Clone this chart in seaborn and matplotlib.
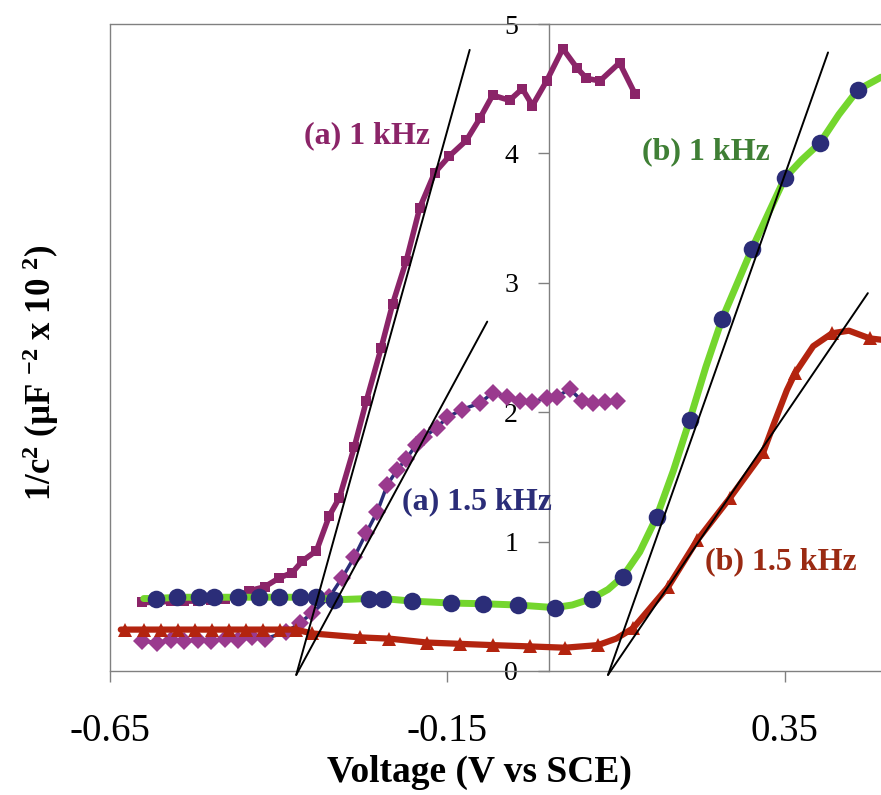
import matplotlib
matplotlib.use("Agg")
import matplotlib.pyplot as plt
import seaborn as sns

# (a) 1 kHz  - squares
a1_v = [-0.602, -0.58, -0.56, -0.54, -0.52, -0.50, -0.48, -0.46, -0.444, -0.421,
        -0.399, -0.380, -0.365, -0.344, -0.325, -0.310, -0.288, -0.270, -0.248, -0.231,
        -0.211, -0.191, -0.169, -0.147, -0.122, -0.102, -0.083, -0.058, -0.039, -0.024,
        -0.003, 0.021, 0.042, 0.056, 0.076, 0.105, 0.128]
a1_c = [0.53, 0.53, 0.54, 0.54, 0.54, 0.55, 0.56, 0.58, 0.62, 0.65,
        0.72, 0.76, 0.85, 0.93, 1.20, 1.34, 1.73, 2.09, 2.50, 2.84,
        3.17, 3.58, 3.85, 3.98, 4.10, 4.27, 4.45, 4.41, 4.50, 4.37,
        4.56, 4.81, 4.66, 4.58, 4.56, 4.70, 4.46]

# (a) 1.5 kHz - diamonds
a15_v = [-0.602, -0.58, -0.56, -0.54, -0.52, -0.50, -0.48, -0.46, -0.44, -0.42,
         -0.389, -0.369, -0.350, -0.325, -0.306, -0.288, -0.270, -0.254, -0.239, -0.225,
         -0.211, -0.196, -0.184, -0.166, -0.150, -0.129, -0.102, -0.083, -0.062, -0.043,
         -0.024, -0.003, 0.013, 0.031, 0.049, 0.065, 0.083, 0.101]
a15_c = [0.23, 0.22, 0.24, 0.23, 0.24, 0.23, 0.25, 0.24, 0.26, 0.25,
         0.30, 0.37, 0.45, 0.57, 0.72, 0.88, 1.07, 1.23, 1.44, 1.55,
         1.64, 1.75, 1.81, 1.88, 1.96, 2.02, 2.07, 2.15, 2.12, 2.09,
         2.08, 2.11, 2.12, 2.18, 2.09, 2.07, 2.08, 2.09]

# (b) 1 kHz - circles on green trace
b1_v = [-0.582, -0.550, -0.518, -0.496, -0.461, -0.429, -0.399, -0.369, -0.344, -0.318,
        -0.266, -0.246, -0.202, -0.144, -0.098, -0.046, 0.009, 0.064, 0.110, 0.160,
        0.209, 0.257, 0.301, 0.350, 0.402, 0.458]
b1_c = [0.56, 0.57, 0.57, 0.57, 0.57, 0.57, 0.57, 0.57, 0.57, 0.55,
        0.56, 0.56, 0.54, 0.525, 0.52, 0.51, 0.49, 0.56, 0.73, 1.19,
        1.94, 2.72, 3.26, 3.81, 4.08, 4.49]
b1_trace_v = [-0.60, -0.582, -0.550, -0.518, -0.496, -0.461, -0.429, -0.399, -0.369,
              -0.344, -0.318, -0.266, -0.246, -0.202, -0.144, -0.098, -0.046, 0.009,
              0.035, 0.064, 0.088, 0.110, 0.135, 0.160, 0.185, 0.209, 0.233, 0.257,
              0.301, 0.350, 0.375, 0.402, 0.430, 0.458, 0.493]
b1_trace_c = [0.56, 0.56, 0.57, 0.57, 0.57, 0.57, 0.57, 0.57, 0.57,
              0.57, 0.55, 0.56, 0.56, 0.54, 0.525, 0.52, 0.51, 0.49,
              0.51, 0.56, 0.63, 0.73, 0.92, 1.19, 1.55, 1.94, 2.35, 2.72,
              3.26, 3.81, 3.95, 4.08, 4.30, 4.49, 4.59]

# (b) 1.5 kHz - triangles
b15_v = [-0.628, -0.599, -0.574, -0.549, -0.524, -0.499, -0.473, -0.448, -0.423, -0.398,
         -0.375, -0.350, -0.280, -0.236, -0.180, -0.132, -0.083, -0.028, 0.024, 0.073,
         0.125, 0.177, 0.220, 0.269, 0.318, 0.365, 0.420, 0.476]
b15_c = [0.32, 0.32, 0.32, 0.32, 0.32, 0.32, 0.32, 0.32, 0.32, 0.32,
         0.32, 0.29, 0.26, 0.25, 0.22, 0.21, 0.20, 0.19, 0.18, 0.20,
         0.33, 0.65, 1.01, 1.34, 1.69, 2.30, 2.61, 2.57]
b15_trace_v = [-0.634, -0.628, -0.599, -0.574, -0.549, -0.524, -0.499, -0.473, -0.448,
               -0.423, -0.398, -0.375, -0.350, -0.280, -0.236, -0.180, -0.132, -0.083,
               -0.028, 0.024, 0.073, 0.100, 0.125, 0.177, 0.220, 0.269, 0.318, 0.333,
               0.353, 0.365, 0.392, 0.420, 0.445, 0.476, 0.493]
b15_trace_c = [0.32, 0.32, 0.32, 0.32, 0.32, 0.32, 0.32, 0.32, 0.32,
               0.32, 0.32, 0.32, 0.29, 0.26, 0.25, 0.22, 0.21, 0.20,
               0.19, 0.18, 0.20, 0.25, 0.33, 0.65, 1.01, 1.34, 1.69, 1.90,
               2.17, 2.30, 2.51, 2.61, 2.63, 2.57, 2.56]

# tangent (Mott-Schottky) lines: start/end points
tangents = {
    "a1": ([-0.374, -0.117], [-0.03, 4.80]),
    "a15": ([-0.374, -0.091], [-0.03, 2.70]),
    "b1": ([0.088, 0.414], [-0.03, 4.78]),
    "b15": ([0.088, 0.473], [-0.03, 2.92]),
}

x_ticks = [-0.65, -0.15, 0.35]
y_ticks = [0, 1, 2, 3, 4, 5]
XMIN, XMAX = -0.65, 0.4925

PURPLE = "#8b2468"
MAGENTA = "#9a3a8e"
NAVY = "#2b2d78"
GREEN = "#74d62e"
DKGREEN = "#3f7f35"
RED = "#b3240f"
DKRED = "#9a2a12"
AXIS = "#808080"

sns.set_theme(style="white")
plt.rcParams["font.family"] = ["Liberation Serif", "DejaVu Serif"]
plt.rcParams["mathtext.fontset"] = "custom"
plt.rcParams["mathtext.rm"] = "Liberation Serif:bold"
plt.rcParams["mathtext.bf"] = "Liberation Serif:bold"
plt.rcParams["mathtext.it"] = "Liberation Serif:bold:italic"

fig = plt.figure(figsize=(8.81, 7.95), dpi=100)
ax = fig.add_axes([110 / 881, 1 - 671 / 795, 1 - 110 / 881, (671 - 24) / 795])

sns.lineplot(x=a1_v, y=a1_c, ax=ax, sort=False, estimator=None, color=PURPLE,
             lw=4, marker="s", markersize=7, markeredgewidth=0, zorder=3)
sns.lineplot(x=a15_v, y=a15_c, ax=ax, sort=False, estimator=None, color=NAVY,
             lw=2.5, marker="D", markersize=9, markerfacecolor=MAGENTA,
             markeredgewidth=0, zorder=3)
sns.lineplot(x=b15_trace_v, y=b15_trace_c, ax=ax, sort=False, estimator=None,
             color=RED, lw=4.5, zorder=4)
sns.lineplot(x=b15_v, y=b15_c, ax=ax, sort=False, estimator=None, color=RED,
             lw=0, marker="^", markersize=10, markeredgewidth=0, zorder=4)
sns.lineplot(x=b1_trace_v, y=b1_trace_c, ax=ax, sort=False, estimator=None,
             color=GREEN, lw=5, zorder=4)
sns.scatterplot(x=b1_v, y=b1_c, ax=ax, color=NAVY, s=160, linewidth=0, zorder=5)

for xs, ys in tangents.values():
    sns.lineplot(x=xs, y=ys, ax=ax, sort=False, estimator=None, color="black",
                 lw=1.4, clip_on=False, zorder=6)

ax.set_xlim(XMIN, XMAX)
ax.set_ylim(0, 5)
ax.set_xticks(x_ticks)
ax.set_xticklabels([f"{t:.2f}" for t in x_ticks])
ax.set_yticks(y_ticks)

ax.spines["left"].set_position(("data", 0))
ax.spines["right"].set_visible(False)
for side in ["left", "top", "bottom"]:
    ax.spines[side].set_color(AXIS)
    ax.spines[side].set_linewidth(1.0)
ax.axvline(XMIN, color=AXIS, lw=1.0, clip_on=False)

ax.tick_params(axis="y", direction="out", length=8, width=1, color=AXIS,
               labelsize=20, pad=14, left=True, labelcolor="black")
ax.tick_params(axis="x", direction="out", length=8, width=1, color=AXIS,
               labelsize=28, pad=22, bottom=True, labelcolor="black")

ax.set_xlabel("Voltage (V vs SCE)", fontsize=27, fontweight="bold", color="black")
ax.xaxis.set_label_coords(0.479, -0.13)
ax.set_ylabel(r"1/c$^{2}$ (µF $^{-2}$ x 10 $^{2}$)", fontsize=25,
              fontweight="bold", color="black")
ax.yaxis.label.set_va("center")
ax.yaxis.set_label_coords(-0.0895, 0.461)

lab = dict(fontsize=23, fontweight="bold", ha="left", va="center", zorder=7)
ax.text(-0.362, 4.14, "(a) 1 kHz", color=PURPLE, **lab)
ax.text(0.138, 4.01, "(b) 1 kHz", color=DKGREEN, **lab)
ax.text(-0.218, 1.305, "(a) 1.5 kHz", color=NAVY, **lab)
ax.text(0.231, 0.842, "(b) 1.5 kHz", color=DKRED, **lab)

fig.savefig("out.png", dpi=100)
